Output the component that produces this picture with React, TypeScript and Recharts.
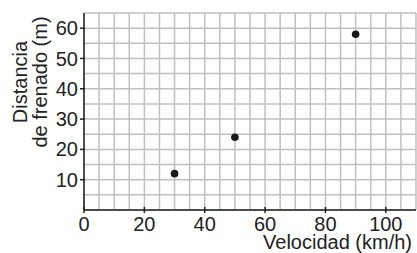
import React from 'react';
import { ScatterChart, Scatter, XAxis, YAxis, CartesianGrid, Label } from 'recharts';

const velocities = [30, 50, 90];
const distances = [12, 24, 58];
const xLabelStep = 20;
const yLabelStep = 10;
const gridX = [0, 5, 10, 15, 20, 25, 30, 35, 40, 45, 50, 55, 60, 65, 70, 75, 80, 85, 90, 95, 100, 105, 110];
const gridY = [0, 5, 10, 15, 20, 25, 30, 35, 40, 45, 50, 55, 60, 65];
const xLabel = 'Velocidad (km/h)';
const yLabelLines = ['Distancia', 'de frenado (m)'];

const data = velocities.map((v, i) => ({ v, d: distances[i] }));

const FONT = '"Liberation Sans", Arial, sans-serif';
const FS = 20;
const TEXT = '#222';
const AXIS = '#222';

const XTick = (props: any) => {
  const { x, y, payload } = props;
  const v = payload.value;
  if (v % xLabelStep !== 0 || v > 100) return <g />;
  return (
    <g>
      <line x1={x} x2={x} y1={y - 10} y2={y - 4} stroke={AXIS} strokeWidth={1.5} />
      <text x={x} y={y} dy="0.71em" textAnchor="middle" fontFamily={FONT} fontSize={FS} fill={TEXT}>
        {v}
      </text>
    </g>
  );
};

const YTick = (props: any) => {
  const { x, y, payload } = props;
  const v = payload.value;
  if (v % yLabelStep !== 0 || v === 0 || v > 60) return <g />;
  return (
    <g>
      <line x1={x + 2} x2={x + 7} y1={y} y2={y} stroke={AXIS} strokeWidth={1.5} />
      <text x={x} y={y} dy="0.355em" textAnchor="end" fontFamily={FONT} fontSize={FS} fill={TEXT}>
        {v}
      </text>
    </g>
  );
};

const YLabel = () => {
  return (
    <g>
      <text x={27} y={82} transform="rotate(-90 27 82)" textAnchor="middle" fontFamily={FONT} fontSize={FS} fill={TEXT}>
        {yLabelLines[0]}
      </text>
      <text x={47} y={82} transform="rotate(-90 47 82)" textAnchor="middle" fontFamily={FONT} fontSize={FS} fill={TEXT}>
        {yLabelLines[1]}
      </text>
    </g>
  );
};

const Dot = (props: any) => {
  const { cx, cy } = props;
  return <circle cx={cx} cy={cy} r={3.8} fill="#1a1a1a" />;
};

export default function App() {
  return (
    <div style={{ position: 'absolute', left: 0, top: 0 }}>
      <ScatterChart width={417} height={253} margin={{ top: 13, right: 1, bottom: 0, left: 0 }}>
        <CartesianGrid stroke="#c0c0c0" strokeWidth={1.5} />
        <XAxis
          type="number"
          dataKey="v"
          domain={[0, 110]}
          ticks={gridX}
          interval={0}
          allowDataOverflow
          height={43}
          tickSize={0}
          tickMargin={7}
          tickLine={false}
          stroke={AXIS}
          strokeWidth={1.5}
          tick={<XTick />}
        >
          <Label value={xLabel} position="insideBottomRight" offset={4} style={{ fontFamily: FONT, fontSize: FS, fill: TEXT }} />
        </XAxis>
        <YAxis
          type="number"
          dataKey="d"
          domain={[0, 65]}
          ticks={gridY}
          interval={0}
          allowDataOverflow
          width={84}
          tickSize={0}
          tickMargin={6}
          tickLine={false}
          stroke={AXIS}
          strokeWidth={1.5}
          tick={<YTick />}
          label={<YLabel />}
        />
        <Scatter data={data} shape={<Dot />} isAnimationActive={false} />
      </ScatterChart>
    </div>
  );
}
